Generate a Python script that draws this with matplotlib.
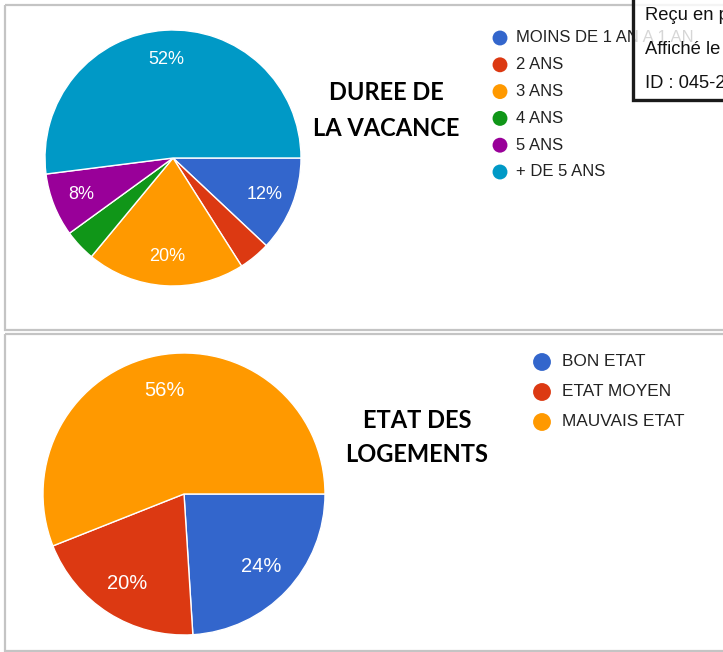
import matplotlib
matplotlib.use('Agg')
import matplotlib.pyplot as plt
from matplotlib.patches import Rectangle

# ── Data ─────────────────────────────────────────────────────────────────────
duree_labels = ["MOINS DE 1 AN A 1 AN", "2 ANS", "3 ANS", "4 ANS", "5 ANS", "+ DE 5 ANS"]
duree_values = [12, 4, 20, 4, 8, 52]
duree_colors = ["#3366CC", "#DC3912", "#FF9900", "#109618", "#990099", "#0099C6"]

etat_labels = ["BON ETAT", "ETAT MOYEN", "MAUVAIS ETAT"]
etat_values = [24, 20, 56]
etat_colors = ["#3366CC", "#DC3912", "#FF9900"]

title_top = ["DUREE DE", "LA VACANCE"]
title_bottom = ["ETAT DES", "LOGEMENTS"]
stamp_lines = ["Reçu en p", "Affiché le", "ID : 045-2"]

# ── Layout (pixels) ──────────────────────────────────────────────────────────
W, H = 723, 652
DPI = 100

fig = plt.figure(figsize=(W / DPI, H / DPI), dpi=DPI)
fig.patch.set_facecolor("white")

bg = fig.add_axes([0, 0, 1, 1], zorder=0)
bg.set_xlim(0, W)
bg.set_ylim(H, 0)
bg.axis("off")

# panel frames
for (x0, y0, x1, y1) in [(5, 5, 740, 330), (5, 334, 740, 651)]:
    bg.add_patch(Rectangle((x0, y0), x1 - x0, y1 - y0, fill=False,
                           edgecolor="#c4c4c4", lw=1.6))


def pie_axes(cx, cy, r):
    ax = fig.add_axes([(cx - r) / W, 1 - (cy + r) / H, 2 * r / W, 2 * r / H], zorder=1)
    return ax


def draw_pie(ax, values, colors, fs, pdist):
    ax.pie(values, colors=colors, startangle=0, counterclock=False,
           autopct=lambda p: f"{p:.0f}%" if p >= 5 else "",
           pctdistance=pdist,
           wedgeprops=dict(edgecolor="white", linewidth=1.0),
           textprops=dict(color="white", fontsize=fs, family="Liberation Sans"))
    ax.set_xlim(-1, 1)
    ax.set_ylim(-1, 1)
    ax.set_aspect("equal")
    ax.axis("off")


ax_top = pie_axes(173, 158, 128)
draw_pie(ax_top, duree_values, duree_colors, 13, 0.77)

ax_bot = pie_axes(184, 494, 141)
draw_pie(ax_bot, etat_values, etat_colors, 14.5, 0.75)

# titles
for i, line in enumerate(title_top):
    bg.text(386, 92 + i * 36, line, ha="center", va="center", fontsize=17,
            fontweight="bold", family="Lato", color="#000000")
for i, line in enumerate(title_bottom):
    bg.text(417, 420 + i * 34, line, ha="center", va="center", fontsize=17,
            fontweight="bold", family="Lato", color="#000000")

# legends
for i, (lab, col) in enumerate(zip(duree_labels, duree_colors)):
    y = 38 + i * 26.8
    bg.scatter([500], [y], s=115, color=col, edgecolors="none", zorder=3)
    bg.text(516, y, lab, ha="left", va="center", fontsize=12,
            family="Liberation Sans", color="#222222")

for i, (lab, col) in enumerate(zip(etat_labels, etat_colors)):
    y = 362 + i * 30
    bg.scatter([542], [y], s=165, color=col, edgecolors="none", zorder=3)
    bg.text(562, y, lab, ha="left", va="center", fontsize=12.4,
            family="Liberation Sans", color="#222222")

# stamp box overlapping the top right corner
ov = fig.add_axes([0, 0, 1, 1], zorder=5)
ov.set_xlim(0, W)
ov.set_ylim(H, 0)
ov.axis("off")
ov.patch.set_alpha(0)
ov.add_patch(Rectangle((633, -10), 120, 110, facecolor="white", alpha=0.82,
                       edgecolor="none"))
ov.add_patch(Rectangle((633, -10), 120, 110, fill=False, edgecolor="#1a1a1a", lw=2.4))
for i, line in enumerate(stamp_lines):
    ov.text(645, 15 + i * 34.5, line, ha="left", va="center", fontsize=13.2,
            family="Liberation Sans", color="#111111")

fig.savefig("out.png", dpi=DPI)
